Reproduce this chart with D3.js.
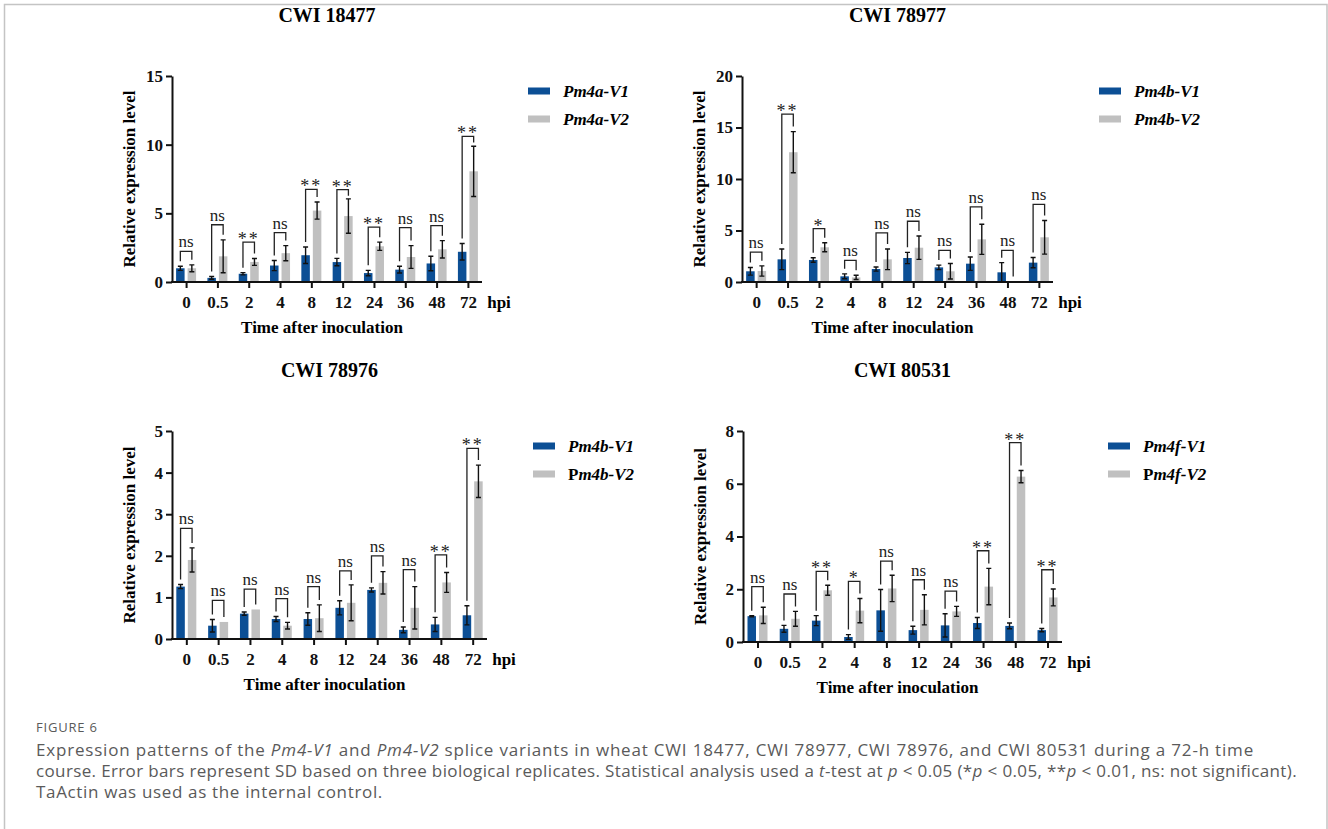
<!DOCTYPE html>
<html>
<head>
<meta charset="utf-8">
<script src="https://cdn.jsdelivr.net/npm/d3@7"></script>
<style>
  body { margin: 0; background: #fff; }
  svg { display: block; }
  .serif { font-family: "Liberation Serif", "Times New Roman", serif; }
</style>
</head>
<body>
<svg id="chart" width="1328" height="829"></svg>
<script>
// time points (hpi)
var times = ["0", "0.5", "2", "4", "8", "12", "24", "36", "48", "72"]

// CWI 18477
var v1_18477  = [1.0, 0.3, 0.6, 1.2, 1.95, 1.45, 0.65, 0.9, 1.35, 2.2]
var sd1_18477 = [0.15, 0.1, 0.08, 0.37, 0.6, 0.27, 0.2, 0.25, 0.53, 0.6]
var v2_18477  = [1.0, 1.87, 1.46, 2.1, 5.2, 4.8, 2.6, 1.82, 2.38, 8.06]
var sd2_18477 = [0.25, 1.2, 0.25, 0.55, 0.62, 1.25, 0.3, 0.83, 0.63, 1.83]
var sig_18477 = ["ns", "ns", "**", "ns", "**", "**", "**", "ns", "ns", "**"]
var brk_18477 = [2.23, 4.17, 2.9, 3.6, 6.75, 6.72, 4.0, 3.96, 4.1, 10.6]

// CWI 78977
var v1_78977  = [1.04, 2.2, 2.14, 0.55, 1.26, 2.33, 1.42, 1.78, 0.94, 1.88]
var sd1_78977 = [0.37, 1.0, 0.22, 0.24, 0.2, 0.55, 0.22, 0.65, 0.94, 0.5]
var v2_78977  = [1.07, 12.6, 3.37, 0.45, 2.2, 3.33, 1.04, 4.14, 0.05, 4.34]
var sd2_78977 = [0.5, 2.0, 0.44, 0.2, 1.0, 1.13, 0.75, 1.46, 0, 1.63]
var sig_78977 = ["ns", "**", "*", "ns", "ns", "ns", "ns", "ns", "ns", "ns"]
var brk_78977 = [2.9, 16.3, 5.18, 2.1, 4.76, 5.9, 3.07, 7.3, 3.07, 7.54]

// CWI 78976
var v1_78976  = [1.26, 0.32, 0.61, 0.48, 0.48, 0.75, 1.18, 0.22, 0.35, 0.57]
var sd1_78976 = [0.05, 0.15, 0.04, 0.06, 0.15, 0.17, 0.05, 0.07, 0.17, 0.23]
var v2_78976  = [1.9, 0.41, 0.71, 0.32, 0.5, 0.87, 1.35, 0.75, 1.36, 3.79]
var sd2_78976 = [0.29, 0, 0, 0.08, 0.32, 0.43, 0.27, 0.51, 0.24, 0.39]
var sig_78976 = ["ns", "ns", "ns", "ns", "ns", "ns", "ns", "ns", "**", "**"]
var brk_78976 = [2.66, 0.93, 1.2, 0.97, 1.26, 1.64, 2.0, 1.67, 2.02, 4.58]

// CWI 80531
var v1_80531  = [0.98, 0.5, 0.81, 0.19, 1.2, 0.45, 0.63, 0.72, 0.61, 0.45]
var sd1_80531 = [0.02, 0.13, 0.19, 0.09, 0.79, 0.15, 0.44, 0.21, 0.11, 0.06]
var v2_80531  = [1.01, 0.88, 1.96, 1.19, 2.03, 1.22, 1.16, 2.1, 6.27, 1.69]
var sd2_80531 = [0.31, 0.28, 0.19, 0.46, 0.5, 0.57, 0.19, 0.69, 0.23, 0.32]
var sig_80531 = ["ns", "ns", "**", "*", "ns", "ns", "ns", "**", "**", "**"]
var brk_80531 = [2.1, 1.82, 2.68, 2.3, 3.07, 2.36, 1.93, 3.46, 7.56, 2.74]

var yMax = [15, 20, 5, 8]
var yTicks = [[0, 5, 10, 15], [0, 5, 10, 15, 20], [0, 1, 2, 3, 4, 5], [0, 2, 4, 6, 8]]
var titles = ["CWI 18477", "CWI 78977", "CWI 78976", "CWI 80531"]

var blue = "#0c4f95"
var grey = "#c0c0c0"

var panels = [
    {title: titles[0], v1: v1_18477, sd1: sd1_18477, v2: v2_18477, sd2: sd2_18477, sig: sig_18477, brk: brk_18477,
     max: yMax[0], ticks: yTicks[0], left: 172, right: 482, top: 76, bottom: 282,
     leg: [["", "Pm4a-V1"], ["", "Pm4a-V2"]]},
    {title: titles[1], v1: v1_78977, sd1: sd1_78977, v2: v2_78977, sd2: sd2_78977, sig: sig_78977, brk: brk_78977,
     max: yMax[1], ticks: yTicks[1], left: 742, right: 1053, top: 76, bottom: 282,
     leg: [["", "Pm4b-V1"], ["", "Pm4b-V2"]]},
    {title: titles[2], v1: v1_78976, sd1: sd1_78976, v2: v2_78976, sd2: sd2_78976, sig: sig_78976, brk: brk_78976,
     max: yMax[2], ticks: yTicks[2], left: 172, right: 487, top: 431, bottom: 639,
     leg: [["", "Pm4b-V1"], ["P", "m4b-V2"]]},
    {title: titles[3], v1: v1_80531, sd1: sd1_80531, v2: v2_80531, sd2: sd2_80531, sig: sig_80531, brk: brk_80531,
     max: yMax[3], ticks: yTicks[3], left: 743, right: 1062, top: 431, bottom: 642,
     leg: [["", "Pm4f-V1"], ["P", "m4f-V2"]]}
]

var svg = d3.select("#chart")

// frame
svg.append("path")
   .attr("d", "M4.5,829 V4.5 H1327 V829")
   .attr("fill", "none")
   .attr("stroke", "#c4c4c4")
   .attr("stroke-width", 1.5)

var barW = 8.5, gap = 3

panels.forEach(function(p){
    var g = svg.append("g").attr("class", "serif")

    var xScale = d3.scalePoint()
                   .domain(times)
                   .range([p.left, p.right])
                   .padding(0.45)

    var yScale = d3.scaleLinear()
                   .domain([0, p.max])
                   .range([p.bottom, p.top])

    // title
    g.append("text")
     .attr("x", (p.left + p.right) / 2)
     .attr("y", p.top - 54)
     .attr("text-anchor", "middle")
     .attr("font-size", 20)
     .attr("font-weight", "bold")
     .text(p.title)

    // bars
    var groups = g.selectAll(".grp")
                  .data(times)
                  .enter()
                  .append("g")

    groups.append("rect")
          .attr("x", d => xScale(d) - gap / 2 - barW)
          .attr("y", (d, i) => yScale(p.v1[i]))
          .attr("width", barW)
          .attr("height", (d, i) => yScale(0) - yScale(p.v1[i]))
          .attr("fill", blue)

    groups.append("rect")
          .attr("x", d => xScale(d) + gap / 2)
          .attr("y", (d, i) => yScale(p.v2[i]))
          .attr("width", barW)
          .attr("height", (d, i) => yScale(0) - yScale(p.v2[i]))
          .attr("fill", grey)

    // error bars
    function errBar(cx, m, s){
        if(s <= 0) return
        var y1 = yScale(m + s), y0 = yScale(Math.max(0, m - s))
        g.append("path")
         .attr("d", `M${cx},${y0}V${y1}M${cx-2.5},${y1}H${cx+2.5}M${cx-2.5},${y0}H${cx+2.5}`)
         .attr("stroke", "#111")
         .attr("stroke-width", 1.4)
         .attr("fill", "none")
    }
    times.forEach(function(t, i){
        var c = xScale(t)
        errBar(c - gap / 2 - barW / 2, p.v1[i], p.sd1[i])
        errBar(c + gap / 2 + barW / 2, p.v2[i], p.sd2[i])

        // significance bracket
        var xl = c - gap / 2 - barW / 2, xr = c + gap / 2 + barW / 2
        var yt = yScale(p.brk[i])
        var yl = Math.max(yt + 6, yScale(p.v1[i] + p.sd1[i]) - 5)
        var yr = Math.max(yt + 6, yScale(p.v2[i] + p.sd2[i]) - 5)
        g.append("path")
         .attr("d", `M${xl},${yl}V${yt}H${xr}V${yr}`)
         .attr("stroke", "#222")
         .attr("stroke-width", 1.3)
         .attr("fill", "none")
        g.append("text")
         .attr("x", c)
         .attr("y", p.sig[i] == "ns" ? yt - 4 : yt + 3)
         .attr("text-anchor", "middle")
         .attr("font-size", p.sig[i] == "ns" ? 17 : 18)
         .attr("letter-spacing", p.sig[i] == "ns" ? 0 : 2)
         .attr("fill", "#222")
         .text(p.sig[i])
    })

    // axes
    var yAxisGen = d3.axisLeft(yScale).tickValues(p.ticks).tickFormat(d3.format("d"))
                     .tickSize(6).tickSizeOuter(0).tickPadding(3)
    var yAxis = g.append("g")
                 .attr("transform", `translate(${p.left},0)`)
                 .call(yAxisGen)
    var xAxisGen = d3.axisBottom(xScale).tickSize(6).tickSizeOuter(0).tickPadding(8)
    var xAxis = g.append("g")
                 .attr("transform", `translate(0,${p.bottom})`)
                 .call(xAxisGen)
    xAxis.select(".domain").attr("d", `M${p.left - 1},0H${p.right}`)

    g.selectAll(".domain, .tick line")
     .attr("stroke", "#111")
     .attr("stroke-width", 2)
    g.selectAll(".tick text")
     .attr("font-family", "Liberation Serif, serif")
     .attr("font-weight", "bold")
     .attr("font-size", 17)
     .attr("fill", "#111")

    // hpi
    g.append("text")
     .attr("x", p.right + 17)
     .attr("y", p.bottom + 26)
     .attr("text-anchor", "middle")
     .attr("font-size", 17)
     .attr("font-weight", "bold")
     .text("hpi")

    // axis titles
    g.append("text")
     .attr("x", (p.left + p.right) / 2 - 5)
     .attr("y", p.bottom + 51)
     .attr("text-anchor", "middle")
     .attr("font-size", 17)
     .attr("font-weight", "bold")
     .text("Time after inoculation")

    g.append("text")
     .attr("transform", `translate(${p.left - 43},${(p.top + p.bottom) / 2}) rotate(-90)`)
     .attr("text-anchor", "middle")
     .attr("dy", "0.35em")
     .attr("font-size", 17)
     .attr("font-weight", "bold")
     .text("Relative expression level")

    // legend
    var lx = p.right + 46
    p.leg.forEach(function(l, k){
        var ly = p.top + 15 + k * 28
        g.append("rect")
         .attr("x", lx).attr("y", ly - 3.5)
         .attr("width", 22).attr("height", 7)
         .attr("fill", k == 0 ? blue : grey)
        var t = g.append("text")
                 .attr("x", lx + 35)
                 .attr("y", ly)
                 .attr("dy", "0.35em")
                 .attr("font-size", 17)
                 .attr("font-weight", "bold")
        if(l[0] != "") t.append("tspan").text(l[0])
        t.append("tspan").attr("font-style", "italic").text(l[1])
    })
})

// caption
var cap = svg.append("g")
             .attr("font-family", "Open Sans, sans-serif")
             .attr("fill", "#5a5a5a")

cap.append("text")
   .attr("x", 36).attr("y", 732)
   .attr("font-size", 13)
   .attr("letter-spacing", 0.8)
   .text("FIGURE 6")

var lines = [
    [["Expression patterns of the ", 0], ["Pm4-V1", 1], [" and ", 0], ["Pm4-V2", 1],
     [" splice variants in wheat CWI 18477, CWI 78977, CWI 78976, and CWI 80531 during a 72-h time", 0]],
    [["course. Error bars represent SD based on three biological replicates. Statistical analysis used a ", 0], ["t", 1],
     ["-test at ", 0], ["p", 1], [" < 0.05 (*", 0], ["p", 1], [" < 0.05, **", 0], ["p", 1], [" < 0.01, ns: not significant).", 0]],
    [["TaActin was used as the internal control.", 0]]
]
// right end of each caption line in the reference
var lineEnds = [1254, 1297, 383]
lines.forEach(function(line, i){
    var t = cap.append("text")
               .attr("x", 36)
               .attr("y", 756 + i * 21)
               .attr("font-size", 17)
    line.forEach(function(s){
        t.append("tspan").attr("font-style", s[1] ? "italic" : "normal").text(s[0])
    })
    var n = line.map(s => s[0]).join("").length
    var w = t.node().getComputedTextLength()
    t.attr("letter-spacing", ((lineEnds[i] - 36) - w) / n)
})
</script>
</body>
</html>
